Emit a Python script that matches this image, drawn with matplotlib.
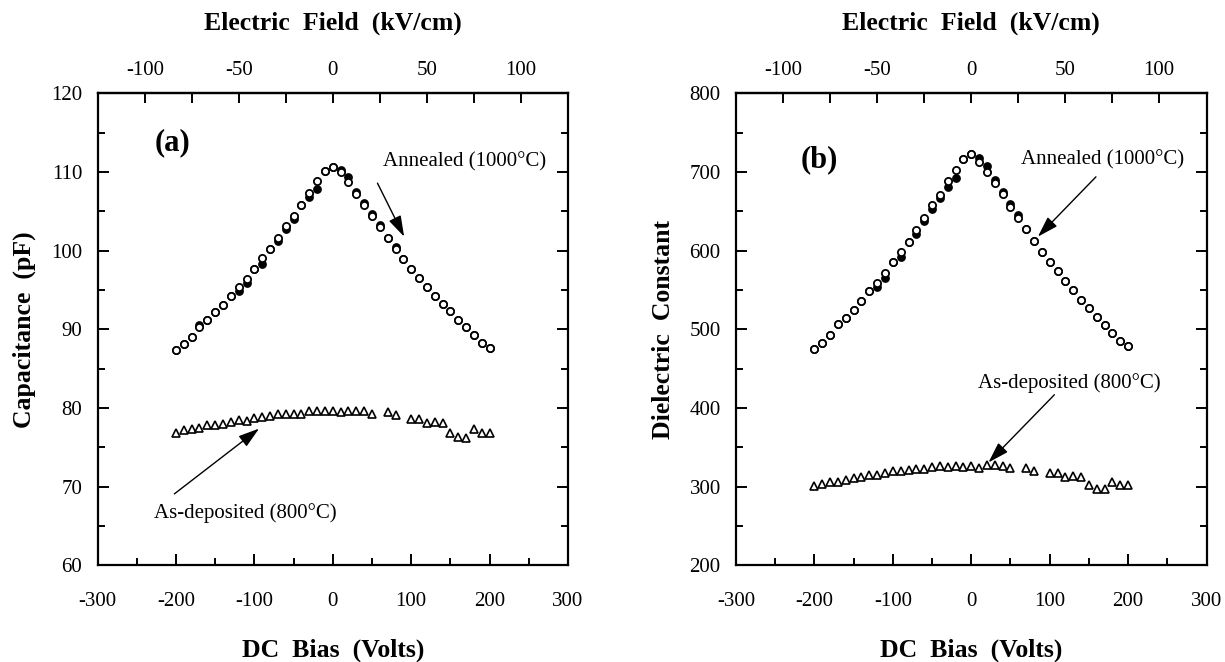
import numpy as np
import matplotlib.pyplot as plt
from matplotlib.ticker import MultipleLocator, FixedLocator

plt.rcParams['font.family'] = ['Liberation Serif', 'DejaVu Serif']
plt.rcParams['axes.unicode_minus'] = False

# DC bias sweep (V)
bias = [-200, -190, -180, -170, -160, -150, -140, -130, -120, -110, -100,
        -90, -80, -70, -60, -50, -40, -30, -20, -10, 0, 10, 20, 30, 40, 50,
        60, 70, 80, 90, 100, 110, 120, 130, 140, 150, 160, 170, 180, 190, 200]
# as-deposited points (60 V and 90 V missing)
bias_dep = [-200, -190, -180, -170, -160, -150, -140, -130, -120, -110, -100,
            -90, -80, -70, -60, -50, -40, -30, -20, -10, 0, 10, 20, 30, 40, 50,
            70, 80, 100, 110, 120, 130, 140, 150, 160, 170, 180, 190, 200]

# (a) capacitance, pF
cap_ann_up = [87.4, 88.2, 89.0, 90.3, 91.2, 92.2, 93.1, 94.3, 95.4, 96.4, 97.7,
              99.1, 100.2, 101.6, 103.1, 104.4, 105.8, 107.4, 108.9, 110.1, 110.6,
              110.0, 108.7, 107.2, 105.8, 104.4, 103.0, 101.6, 100.2, 98.9, 97.7,
              96.5, 95.4, 94.3, 93.3, 92.3, 91.2, 90.3, 89.3, 88.3, 87.6]
cap_ann_dn = [87.4, 88.2, 89.0, 90.6, 91.2, 92.2, 93.1, 94.3, 94.9, 95.9, 97.7,
              98.3, 100.2, 101.2, 102.8, 104.1, 105.8, 106.8, 107.8, 110.1, 110.6,
              110.3, 109.4, 107.5, 106.1, 104.7, 103.3, 101.6, 100.5, 98.9, 97.7,
              96.5, 95.4, 94.3, 93.3, 92.3, 91.2, 90.3, 89.3, 88.3, 87.6]
cap_dep = [76.8, 77.2, 77.4, 77.5, 77.8, 77.9, 78.0, 78.2, 78.5, 78.4, 78.7,
           78.9, 79.0, 79.2, 79.3, 79.3, 79.2, 79.6, 79.7, 79.6, 79.7, 79.5,
           79.6, 79.6, 79.7, 79.3, 79.5, 79.1, 78.6, 78.6, 78.1, 78.2, 78.1,
           76.8, 76.3, 76.2, 77.3, 76.8, 76.8]

# (b) dielectric constant
k_ann_up = [475.1, 482.7, 493.3, 507.2, 514.5, 525.0, 535.6, 548.3, 559.7, 571.6,
            585.2, 598.3, 611.8, 626.7, 641.5, 658.5, 671.0, 689.3, 703.0, 716.9,
            722.9, 713.5, 700.8, 686.0, 672.0, 656.3, 642.3, 627.6, 613.1, 599.1,
            586.4, 573.7, 561.0, 549.6, 537.7, 527.2, 515.8, 505.1, 495.4, 484.8,
            478.4]
k_ann_dn = [475.1, 482.7, 493.3, 507.2, 514.5, 525.0, 535.6, 548.3, 554.6, 565.3,
            585.2, 592.0, 611.8, 621.6, 638.5, 653.5, 667.0, 681.7, 692.4, 716.9,
            722.9, 717.7, 708.0, 690.0, 675.0, 659.0, 645.0, 627.6, 613.1, 599.1,
            586.4, 573.7, 561.0, 549.6, 537.7, 527.2, 515.8, 505.1, 495.4, 484.8,
            478.4]
k_dep = [301.4, 303.5, 305.6, 306.0, 309.0, 311.0, 312.4, 315.4, 314.5, 317.5,
         320.5, 319.6, 321.7, 323.0, 322.6, 324.7, 326.0, 325.0, 326.0, 325.0,
         326.0, 323.9, 327.2, 327.2, 326.0, 323.9, 323.9, 320.5, 317.5, 317.5,
         313.0, 313.8, 313.0, 302.6, 297.6, 297.6, 305.6, 301.8, 301.8]

field_ticks = [-100, -50, 0, 50, 100]
field_minor = [-125, -75, -25, 25, 75, 125]
field_per_volt = 0.4175  # kV/cm per V

fig = plt.figure(figsize=(12.25, 6.62), dpi=100)
ax1 = fig.add_axes([0.0796, 0.1458, 0.3841, 0.713])
ax2 = fig.add_axes([0.6008, 0.1458, 0.3841, 0.713])

arrow = dict(arrowstyle='-|>,head_length=0.8,head_width=0.25', color='k',
             lw=1.0, shrinkA=0, shrinkB=0, mutation_scale=16)


def setup(ax, ylim, ymaj, ymin, ylabel):
    ax.set_xlim(-300, 300)
    ax.set_ylim(*ylim)
    ax.xaxis.set_major_locator(MultipleLocator(100))
    ax.xaxis.set_minor_locator(MultipleLocator(50))
    ax.yaxis.set_major_locator(MultipleLocator(ymaj))
    ax.yaxis.set_minor_locator(MultipleLocator(ymin))
    for s in ax.spines.values():
        s.set_linewidth(1.6)
    ax.tick_params(which='both', direction='in', right=True, width=1.4,
                   labelsize=15)
    ax.tick_params(which='major', length=8)
    ax.tick_params(which='minor', length=5)
    ax.tick_params(axis='x', pad=19)
    ax.tick_params(axis='y', pad=11)
    ax.set_xlabel('DC  Bias  (Volts)', fontsize=18.5, fontweight='bold')
    ax.xaxis.set_label_coords(0.5, -0.155)
    ax.set_ylabel(ylabel, fontsize=18.5, fontweight='bold')
    ax.yaxis.set_label_coords(-0.13, 0.5)

    sec = ax.secondary_xaxis('top', functions=(lambda v: v * field_per_volt,
                                               lambda e: e / field_per_volt))
    sec.xaxis.set_major_locator(FixedLocator(field_ticks))
    sec.xaxis.set_minor_locator(FixedLocator(field_minor[:-1]))
    sec.tick_params(which='both', direction='in', width=1.4, labelsize=15,
                    length=7, pad=9.5)
    sec.spines['top'].set_linewidth(1.6)
    sec.set_xlabel('Electric  Field  (kV/cm)', fontsize=18.5,
                   fontweight='bold', labelpad=23)


def draw(ax, up, dn, dep):
    ax.plot(bias, dn, 'o', ms=5.2, mfc='k', mec='k', mew=1.1, zorder=3)
    ax.plot(bias, up, 'o', ms=5.2, mfc='white', mec='k', mew=1.3, zorder=4)
    ax.plot(bias_dep, dep, '^', ms=6.2, mfc='white', mec='k', mew=1.2,
            zorder=4)


setup(ax1, (60, 120), 10, 5, 'Capacitance  (pF)')
draw(ax1, cap_ann_up, cap_ann_dn, cap_dep)
ax1.text(-205, 113.8, '(a)', fontsize=22, fontweight='bold',
         ha='center', va='center')
ax1.text(168, 111.3, 'Annealed (1000°C)', fontsize=15, ha='center',
         va='center')
ax1.annotate('', xy=(91, 101.8), xytext=(57, 108.6), arrowprops=arrow)
ax1.text(-112, 66.7, 'As-deposited (800°C)', fontsize=15, ha='center',
         va='center')
ax1.annotate('', xy=(-94, 77.4), xytext=(-202, 69.1), arrowprops=arrow)

setup(ax2, (200, 800), 100, 50, 'Dielectric  Constant')
draw(ax2, k_ann_up, k_ann_dn, k_dep)
ax2.text(-194, 716, '(b)', fontsize=22, fontweight='bold',
         ha='center', va='center')
ax2.text(168, 716, 'Annealed (1000°C)', fontsize=15, ha='center',
         va='center')
ax2.annotate('', xy=(85, 618), xytext=(159, 694), arrowprops=arrow)
ax2.text(125, 432, 'As-deposited (800°C)', fontsize=15, ha='center',
         va='center')
ax2.annotate('', xy=(22, 331), xytext=(106, 417), arrowprops=arrow)

fig.savefig('out.png', dpi=100)
